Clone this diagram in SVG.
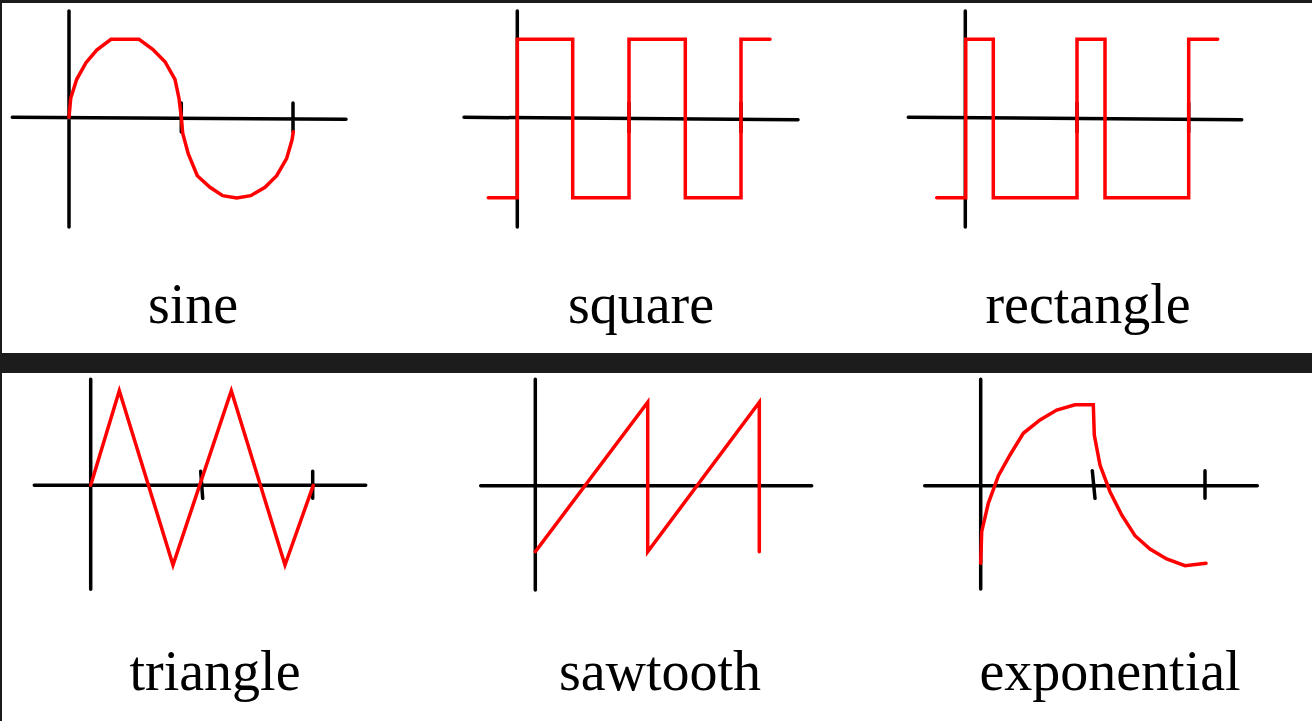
<svg xmlns="http://www.w3.org/2000/svg" width="1312" height="721" viewBox="0 0 1312 721">
<style>
.ax{fill:none;stroke:#000;stroke-width:3.5;stroke-linecap:round;stroke-linejoin:round}
.w{fill:none;stroke:#ff0000;stroke-width:3.5;stroke-linecap:round;stroke-linejoin:miter}
.lbl{font-family:"Liberation Serif","Times New Roman",serif;font-size:56px;fill:#000;text-anchor:middle}
.frame{fill:#1c1c1c}
</style>
<rect x="0" y="0" width="1312" height="721" fill="#fff"/>
<g id="frame">
<rect class="frame" x="0" y="0" width="1312" height="3"/>
<rect class="frame" x="0" y="0" width="2" height="721"/>
<rect class="frame" x="0" y="353" width="1312" height="20"/>
</g>
<g id="sine">
<path class="ax" d="M69 11V227M12.3 117.3L346 119.3M181.3 103V132M293 103V132"/>
<polyline class="w" points="69,117.3 70.7,98.3 76.7,79.3 86,62.7 96.7,50 111,39.3 139,39.3 152.7,49.3 165,61.7 175,79.3 179,98.3 181.3,117.3 182.7,133.3 188.3,154 197.3,175.7 210,187.3 222.7,195.7 236.7,198 250.7,195.7 265,187.3 276.7,175.7 286.7,158.3 292,140 293.3,131.7"/>
<text class="lbl" x="193" y="323">sine</text>
</g>
<g id="square">
<path class="ax" d="M517.3 11V227M464 117.3L798 119.7M629 103V132M741 103V132"/>
<polyline class="w" points="488.3,197.7 517.3,197.7 517.3,39.3 572.7,39.3 572.7,197.7 629,197.7 629,39.3 685.3,39.3 685.3,197.7 741,197.7 741,39.3 770,39.3"/>
<text class="lbl" x="641" y="323">square</text>
</g>
<g id="rectangle">
<path class="ax" d="M965.3 11V227M908.3 117.3L1241.7 119.7M1077 103V132M1188.7 103V132"/>
<polyline class="w" points="936.7,197.7 965.7,197.7 965.7,39.3 993.3,39.3 993.3,197.7 1077,197.7 1077,39.3 1105,39.3 1105,197.7 1188.7,197.7 1188.7,39.3 1217.7,39.3"/>
<text class="lbl" x="1088" y="323">rectangle</text>
</g>
<g id="triangle">
<path class="ax" d="M90.7 379.3V589.3M34.3 485.3H365.7M200.7 471.3L202.7 498.3M312.7 471.3V498.3"/>
<polyline class="w" points="90.7,485.3 119.3,390.7 173,565 231.3,390.7 285,565 313.3,485.3"/>
<text class="lbl" x="215" y="690">triangle</text>
</g>
<g id="sawtooth">
<path class="ax" d="M535.3 379.3V590M480.7 485.7H811.7"/>
<polyline class="w" points="535.3,551.7 647.7,402.3 647.7,551.7 759.3,402.3 759.3,551.7"/>
<text class="lbl" x="660" y="690">sawtooth</text>
</g>
<g id="exponential">
<path class="ax" d="M980.7 379.3V589M924.7 485.7H1257.3M1092.3 470.7L1095 498.3M1205 470.7V498.3"/>
<polyline class="w" points="980.7,563.3 981.7,531.7 988.3,503.3 998.3,476 1010,455 1023.3,433.3 1040,420 1056.7,410 1075,404.7 1093.3,404.7 1094.3,435 1100,465 1110,491.7 1121.7,515 1135,535.7 1150,549 1166.7,559 1185,565.7 1206,563.3"/>
<text class="lbl" x="1110" y="690">exponential</text>
</g>
</svg>
